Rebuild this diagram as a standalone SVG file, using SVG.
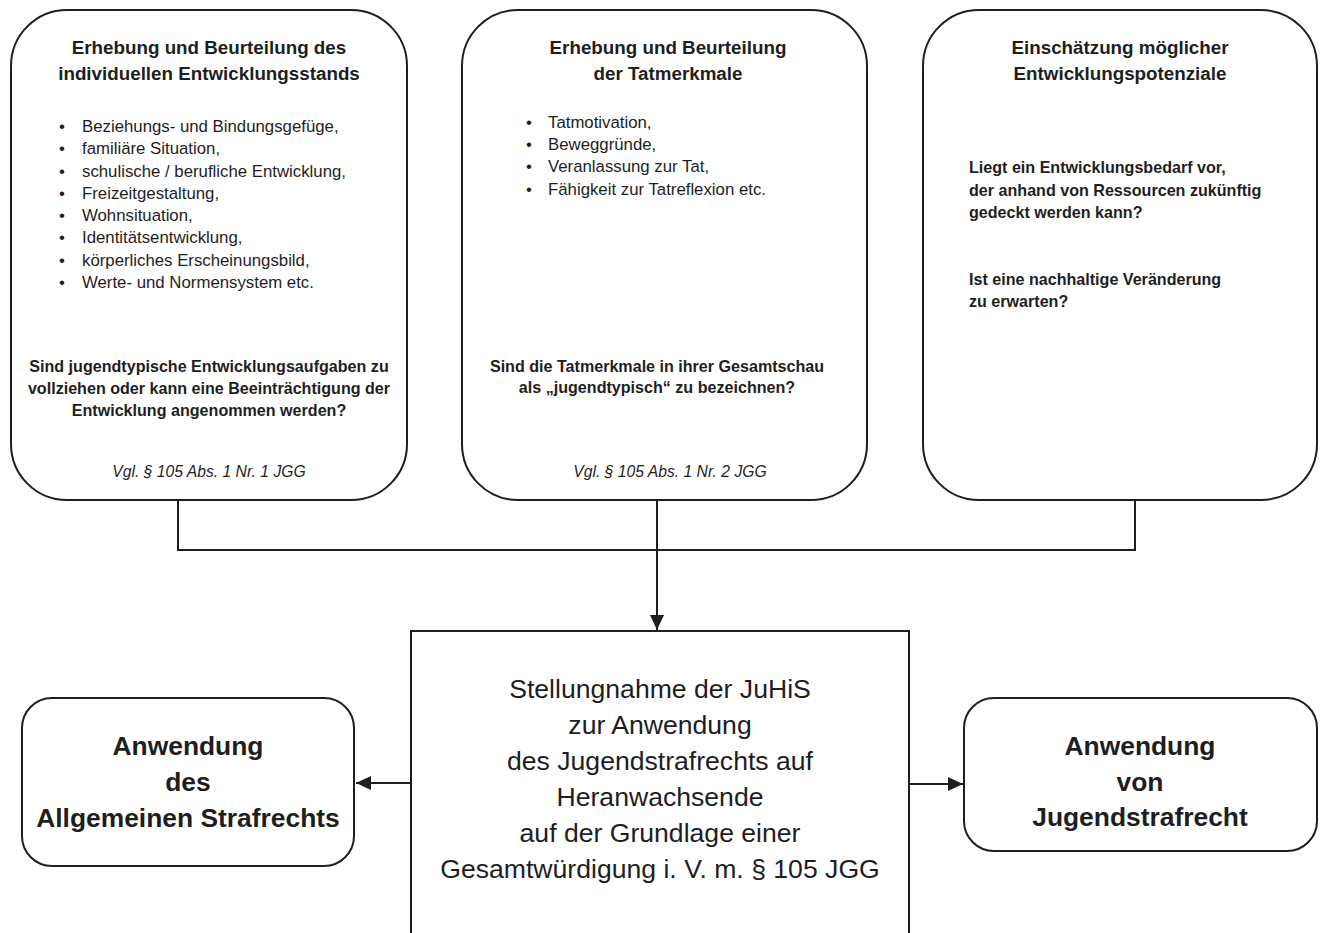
<svg xmlns="http://www.w3.org/2000/svg" width="1324" height="933" viewBox="0 0 1324 933">
<style>
text{font-family:"Liberation Sans",Arial,sans-serif;fill:#1e1e1e}
.t{font-weight:bold;font-size:18.8px;text-anchor:middle}
.b{font-size:16.8px}
.q{font-weight:bold;font-size:16.1px}
.qc{font-weight:bold;font-size:16.1px;text-anchor:middle}
.v{font-style:italic;font-size:15.7px;text-anchor:middle}
.big{font-size:26.6px;text-anchor:middle}
.bigb{font-weight:bold;font-size:26.4px;text-anchor:middle}
.box{fill:#fff;stroke:#1e1e1e;stroke-width:2}
.ln{fill:none;stroke:#1e1e1e;stroke-width:2}
</style>
<defs>
<marker id="ah" markerUnits="userSpaceOnUse" markerWidth="16" markerHeight="14" refX="15" refY="7" orient="auto">
<path d="M0,0 L15,7 L0,14 Z" fill="#1e1e1e"/>
</marker>
</defs>
<rect width="1324" height="933" fill="#fff"/>
<g id="connectors">
<polyline class="ln" points="178,500 178,550 1135,550 1135,500"/>
<line class="ln" x1="657" y1="500" x2="657" y2="630" marker-end="url(#ah)"/>
<line class="ln" x1="411" y1="783" x2="356" y2="783" marker-end="url(#ah)"/>
<line class="ln" x1="909" y1="784" x2="963" y2="784" marker-end="url(#ah)"/>
</g>
<g id="box1">
<rect class="box" x="11" y="10" width="396" height="490" rx="56"/>
<text class="t" x="209" y="54">Erhebung und Beurteilung des</text>
<text class="t" x="209" y="80">individuellen Entwicklungsstands</text>
<g class="b">
<text class="b" x="59" y="132">•</text><text class="b" x="82" y="132">Beziehungs- und Bindungsgefüge,</text>
<text class="b" x="59" y="154">•</text><text class="b" x="82" y="154">familiäre Situation,</text>
<text class="b" x="59" y="177">•</text><text class="b" x="82" y="177">schulische / berufliche Entwicklung,</text>
<text class="b" x="59" y="199">•</text><text class="b" x="82" y="199">Freizeitgestaltung,</text>
<text class="b" x="59" y="221">•</text><text class="b" x="82" y="221">Wohnsituation,</text>
<text class="b" x="59" y="243">•</text><text class="b" x="82" y="243">Identitätsentwicklung,</text>
<text class="b" x="59" y="266">•</text><text class="b" x="82" y="266">körperliches Erscheinungsbild,</text>
<text class="b" x="59" y="288">•</text><text class="b" x="82" y="288">Werte- und Normensystem etc.</text>
</g>
<text class="qc" x="209" y="372">Sind jugendtypische Entwicklungsaufgaben zu</text>
<text class="qc" x="209" y="394">vollziehen oder kann eine Beeinträchtigung der</text>
<text class="qc" x="209" y="416">Entwicklung angenommen werden?</text>
<text class="v" x="209" y="477">Vgl. § 105 Abs. 1 Nr. 1 JGG</text>
</g>
<g id="box2">
<rect class="box" x="462" y="10" width="405" height="490" rx="56"/>
<text class="t" x="668" y="54">Erhebung und Beurteilung</text>
<text class="t" x="668" y="80">der Tatmerkmale</text>
<text class="b" x="526" y="128">•</text><text class="b" x="548" y="128">Tatmotivation,</text>
<text class="b" x="526" y="150">•</text><text class="b" x="548" y="150">Beweggründe,</text>
<text class="b" x="526" y="172">•</text><text class="b" x="548" y="172">Veranlassung zur Tat,</text>
<text class="b" x="526" y="195">•</text><text class="b" x="548" y="195">Fähigkeit zur Tatreflexion etc.</text>
<text class="qc" x="657" y="372">Sind die Tatmerkmale in ihrer Gesamtschau</text>
<text class="qc" x="657" y="393">als „jugendtypisch“ zu bezeichnen?</text>
<text class="v" x="670" y="477">Vgl. § 105 Abs. 1 Nr. 2 JGG</text>
</g>
<g id="box3">
<rect class="box" x="923" y="10" width="394" height="490" rx="56"/>
<text class="t" x="1120" y="54">Einschätzung möglicher</text>
<text class="t" x="1120" y="80">Entwicklungspotenziale</text>
<text class="q" x="969" y="173">Liegt ein Entwicklungsbedarf vor,</text>
<text class="q" x="969" y="196">der anhand von Ressourcen zukünftig</text>
<text class="q" x="969" y="218">gedeckt werden kann?</text>
<text class="q" x="969" y="285">Ist eine nachhaltige Veränderung</text>
<text class="q" x="969" y="307">zu erwarten?</text>
</g>
<g id="center">
<rect class="box" x="411" y="631" width="498" height="330"/>
<text class="big" x="660" y="698">Stellungnahme der JuHiS</text>
<text class="big" x="660" y="734">zur Anwendung</text>
<text class="big" x="660" y="770">des Jugendstrafrechts auf</text>
<text class="big" x="660" y="806">Heranwachsende</text>
<text class="big" x="660" y="842">auf der Grundlage einer</text>
<text class="big" x="660" y="878">Gesamtwürdigung i. V. m. § 105 JGG</text>
</g>
<g id="left">
<rect class="box" x="22" y="698" width="332" height="168" rx="30"/>
<text class="bigb" x="188" y="755">Anwendung</text>
<text class="bigb" x="188" y="791">des</text>
<text class="bigb" x="188" y="827">Allgemeinen Strafrechts</text>
</g>
<g id="right">
<rect class="box" x="964" y="698" width="353" height="153" rx="30"/>
<text class="bigb" x="1140" y="755">Anwendung</text>
<text class="bigb" x="1140" y="791">von</text>
<text class="bigb" x="1140" y="826">Jugendstrafrecht</text>
</g>
</svg>
